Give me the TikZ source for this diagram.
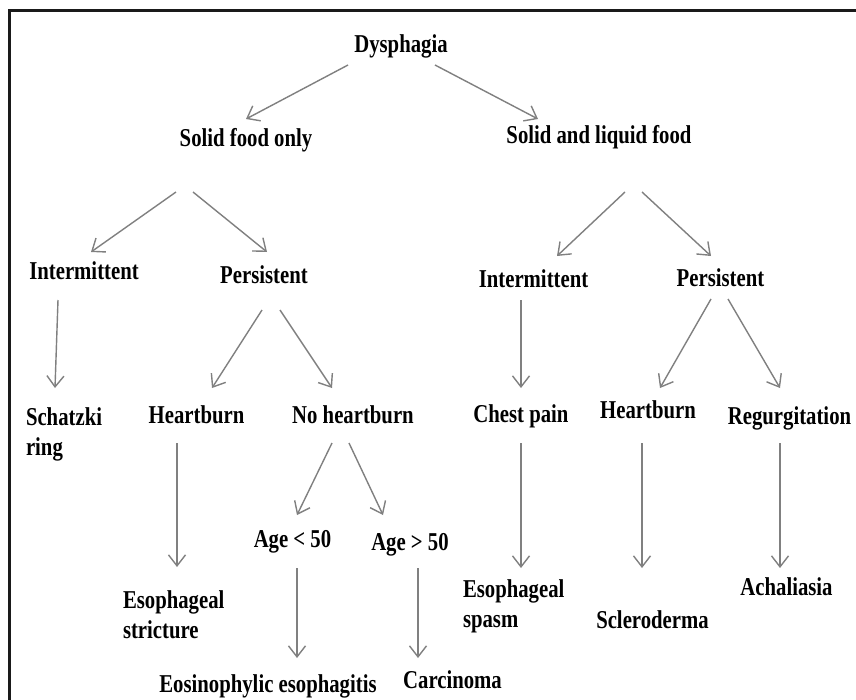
\documentclass[tikz,border=0pt]{standalone}
\usepackage{fontspec}
\setmainfont[FakeStretch=0.807]{Liberation Serif}
\usetikzlibrary{arrows.meta}
\definecolor{arrgray}{HTML}{808080}
\definecolor{framec}{HTML}{1A1A1A}
\newcommand\twolines[2]{\vtop{\baselineskip=30pt\hbox{#1}\hbox{#2}}}
\begin{document}
\begin{tikzpicture}[x=1pt,y=-1pt,
  lbl/.style={inner sep=0pt,outer sep=0pt,anchor=base,font=\fontsize{25.7}{30}\selectfont\bfseries,text=black},
  lblw/.style={lbl,anchor=base west},
  arr/.style={draw=arrgray,line width=1.4pt,-{Straight Barb[length=11pt,width=17pt]}}]
\useasboundingbox (0,0) rectangle (856,699);
\fill[white] (0,0) rectangle (856,699);
\draw[framec,line width=3pt] (9.5,705) -- (9.5,10.5) -- (860,10.5);
% nodes
\node[lbl] (dys) at (401,52) {Dysphagia};
\node[lbl] (sfo) at (246,146) {Solid food only};
\node[lbl] (slf) at (599,143) {Solid and liquid food};
\node[lbl] (int1) at (84,279) {Intermittent};
\node[lbl] (per1) at (264,283) {Persistent};
\node[lbl] (int2) at (533.5,287) {Intermittent};
\node[lbl] (per2) at (720.5,286) {Persistent};
\node[lblw] (sch) at (26,425) {\twolines{Schatzki}{ring}};
\node[lbl] (hb1) at (196.5,423) {Heartburn};
\node[lbl] (nhb) at (353,423) {No heartburn};
\node[lbl] (chp) at (521,422) {Chest pain};
\node[lbl] (hb2) at (648,418) {Heartburn};
\node[lbl] (reg) at (789.5,424) {Regurgitation};
\node[lbl] (a50l) at (292.5,547) {Age < 50};
\node[lbl] (a50g) at (410,550) {Age > 50};
\node[lblw] (es1) at (123,608) {\twolines{Esophageal}{stricture}};
\node[lblw] (es2) at (463,597) {\twolines{Esophageal}{spasm}};
\node[lbl] (scl) at (652.5,628) {Scleroderma};
\node[lbl] (ach) at (786.5,595) {Achaliasia};
\node[lbl] (eos) at (268,692) {Eosinophylic esophagitis};
\node[lbl] (car) at (452.5,688) {Carcinoma};
% connectors
\draw[arr] ([shift={(-53,13)}]dys.base) -- ([shift={(0,-27)}]sfo.base);
\draw[arr] ([shift={(34,13)}]dys.base) -- ([shift={(-61,-24)}]slf.base);
\draw[arr] ([shift={(-70,46)}]sfo.base) -- ([shift={(7,-27)}]int1.base);
\draw[arr] ([shift={(-53,46)}]sfo.base) -- ([shift={(3,-31)}]per1.base);
\draw[arr] ([shift={(26,49)}]slf.base) -- ([shift={(23.5,-31)}]int2.base);
\draw[arr] ([shift={(43,49)}]slf.base) -- ([shift={(-9.5,-30)}]per2.base);
\draw[arr] ([shift={(-26,21)}]int1.base) -- ([shift={(29,-37)}]sch.base west);
\draw[arr] ([shift={(-2,27)}]per1.base) -- ([shift={(15.5,-35)}]hb1.base);
\draw[arr] ([shift={(16,27)}]per1.base) -- ([shift={(-21,-35)}]nhb.base);
\draw[arr] ([shift={(-12.5,13)}]int2.base) -- ([shift={(0,-34)}]chp.base);
\draw[arr] ([shift={(-9.5,13)}]per2.base) -- ([shift={(12,-30)}]hb2.base);
\draw[arr] ([shift={(7.5,13)}]per2.base) -- ([shift={(-9.5,-36)}]reg.base);
\draw[arr] ([shift={(-19.5,20)}]hb1.base) -- ([shift={(54,-41)}]es1.base west);
\draw[arr] ([shift={(-21,20)}]nhb.base) -- ([shift={(4.5,-32)}]a50l.base);
\draw[arr] ([shift={(-4,20)}]nhb.base) -- ([shift={(-27,-35)}]a50g.base);
\draw[arr] ([shift={(0,21)}]chp.base) -- ([shift={(58,-29)}]es2.base west);
\draw[arr] ([shift={(-6,25)}]hb2.base) -- ([shift={(-10.5,-60)}]scl.base);
\draw[arr] ([shift={(-9.5,19)}]reg.base) -- ([shift={(-6.5,-27)}]ach.base);
\draw[arr] ([shift={(4.5,21)}]a50l.base) -- ([shift={(29,-34)}]eos.base);
\draw[arr] ([shift={(8,18)}]a50g.base) -- ([shift={(-34.5,-30)}]car.base);
\end{tikzpicture}
\end{document}
